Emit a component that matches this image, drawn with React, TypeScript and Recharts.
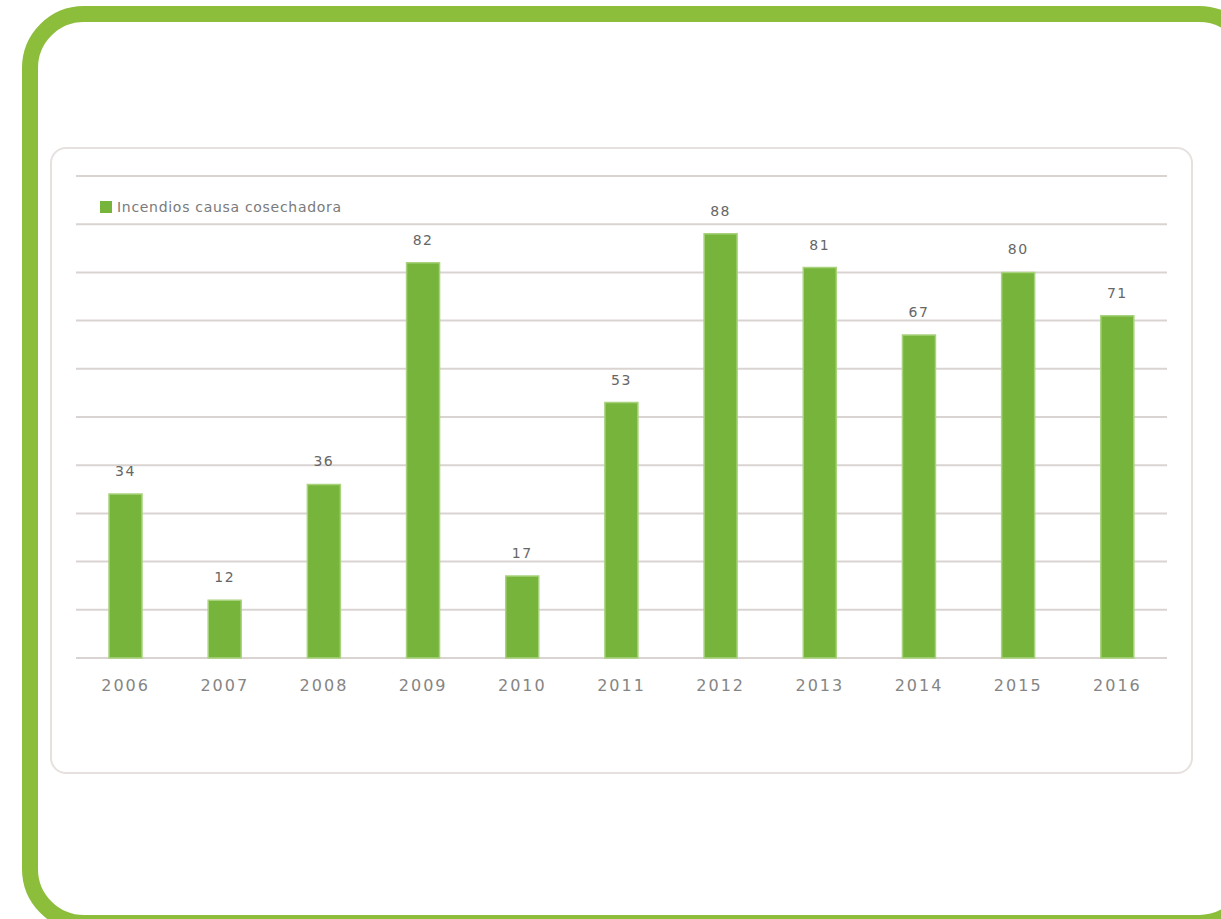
import { BarChart, Bar, XAxis, YAxis, CartesianGrid, Legend, LabelList } from "recharts";

const years = ["2006", "2007", "2008", "2009", "2010", "2011", "2012", "2013", "2014", "2015", "2016"];
const incendios = [34, 12, 36, 82, 17, 53, 88, 81, 67, 80, 71];
const yTicks = [0, 10, 20, 30, 40, 50, 60, 70, 80, 90, 100];

const data = years.map((year, i) => ({ year, value: incendios[i] }));

const FONT = "'DejaVu Sans', sans-serif";
const GREEN = "#77b43b";

const renderLegend = () => (
  <div style={{ display: "flex", alignItems: "center", fontFamily: FONT, fontSize: 14, color: "#7a7a7a", letterSpacing: 0.7, height: 16 }}>
    <span style={{ display: "inline-block", width: 12, height: 12, background: GREEN, marginRight: 5 }} />
    <span>Incendios causa cosechadora</span>
  </div>
);

export default function App() {
  return (
    <div style={{ position: "fixed", left: 0, top: 0, width: 1221, height: 919, overflow: "hidden", background: "#fff" }}>
      <div
        style={{
          position: "absolute",
          left: 22,
          top: 6,
          width: 1239,
          height: 925,
          boxSizing: "border-box",
          border: "16px solid #8cbe3c",
          borderRadius: 62,
        }}
      />
      <div
        style={{
          position: "absolute",
          left: 50,
          top: 147,
          width: 1143,
          height: 627,
          boxSizing: "border-box",
          border: "2px solid #e6e1de",
          borderRadius: 16,
        }}
      />
      <div style={{ position: "absolute", left: 50, top: 147 }}>
        <BarChart width={1143} height={627} data={data} margin={{ top: 29, right: 26, left: 26, bottom: 70 }}>
          <CartesianGrid vertical={false} stroke="#d9d4d1" strokeWidth={2} />
          <XAxis
            dataKey="year"
            axisLine={false}
            tickLine={false}
            height={30}
            tickMargin={16}
            tick={{ fill: "#858585", fontSize: 16, fontFamily: FONT, letterSpacing: 2 }}
          />
          <YAxis hide domain={[0, 100]} ticks={yTicks} />
          <Legend content={renderLegend} wrapperStyle={{ position: "absolute", top: 52, left: 50, width: "auto", height: 16 }} />
          <Bar dataKey="value" fill={GREEN} stroke="#a8d27c" strokeWidth={1.5} barSize={33} isAnimationActive={false}>
            <LabelList
              dataKey="value"
              position="top"
              offset={18}
              style={{ fill: "#666", fontSize: 14, fontFamily: FONT, letterSpacing: 1.5 }}
            />
          </Bar>
        </BarChart>
      </div>
    </div>
  );
}
